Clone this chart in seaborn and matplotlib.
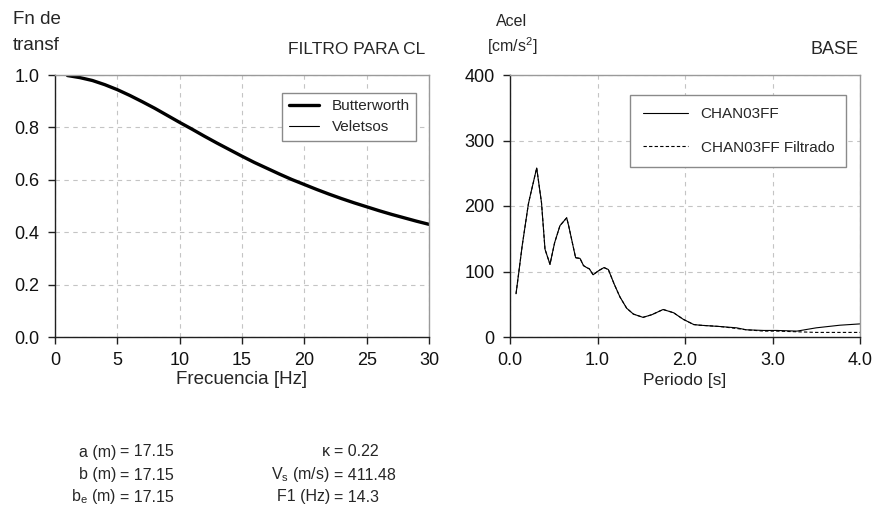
import numpy as np
import pandas as pd
import seaborn as sns
import matplotlib.pyplot as plt

# --- left panel: transfer function ---
freq_hz = [1, 2, 3, 4, 5, 6, 7, 8, 9, 10, 11, 12, 13, 14, 15, 16, 17, 18, 19, 20,
           21, 22, 23, 24, 25, 26, 27, 28, 29, 30]
butterworth = [0.998, 0.990, 0.979, 0.963, 0.944, 0.922, 0.898, 0.873, 0.846, 0.819,
               0.793, 0.766, 0.740, 0.715, 0.690, 0.666, 0.644, 0.622, 0.601, 0.582,
               0.563, 0.545, 0.528, 0.512, 0.497, 0.482, 0.468, 0.455, 0.442, 0.430]
veletsos = [0.998, 0.990, 0.979, 0.963, 0.944, 0.922, 0.898, 0.873, 0.846, 0.819,
            0.793, 0.766, 0.740, 0.715, 0.690, 0.666, 0.644, 0.622, 0.601, 0.582,
            0.563, 0.545, 0.528, 0.512, 0.497, 0.482, 0.468, 0.455, 0.442, 0.430]

# --- right panel: response spectrum ---
periodo = [0.069, 0.14, 0.21, 0.23, 0.305, 0.36, 0.40, 0.457, 0.51, 0.571, 0.648, 0.67,
           0.75, 0.80, 0.84, 0.876, 0.907, 0.95, 1.01, 1.074, 1.124, 1.19, 1.257, 1.333,
           1.41, 1.52, 1.62, 1.75, 1.87, 1.98, 2.10, 2.17, 2.40, 2.59, 2.70, 2.90, 3.05,
           3.28, 3.50, 3.77, 4.00]
chan03ff = [66, 140, 203, 215, 258, 205, 134, 111, 144, 170, 182, 170,
            121, 120, 109, 106, 104, 95, 101, 106, 103, 81, 61, 44,
            35, 30, 34, 42, 37, 27, 19, 18, 16, 14, 11, 10, 10,
            9, 14, 18, 20]
chan03ff_filt = [66, 140, 203, 215, 258, 205, 134, 111, 144, 170, 182, 170,
                 121, 120, 109, 106, 104, 95, 101, 106, 103, 81, 61, 44,
                 35, 30, 34, 42, 37, 27, 19, 18, 16, 13, 11, 9, 9,
                 8, 7, 7, 7]

params_left = [("a (m)", "17.15"), ("b (m)", "17.15"), ("b$_\\mathregular{e}$ (m)", "17.15")]
params_right = [("\u03ba", "0.22"), ("V$_\\mathregular{s}$ (m/s)", "411.48"), ("F1 (Hz)", "14.3")]

sns.set_style("ticks")
plt.rcParams["font.family"] = ["Liberation Sans", "DejaVu Sans"]

fig = plt.figure(figsize=(8.72, 5.09), dpi=100)
W, H = 872.0, 509.0
ax1 = fig.add_axes([55 / W, 1 - 337 / H, 374 / W, 262 / H])
ax2 = fig.add_axes([510 / W, 1 - 337 / H, 350 / W, 262 / H])

df_tf = pd.DataFrame({"f": freq_hz, "bw": butterworth, "vel": veletsos})
sns.lineplot(data=df_tf, x="f", y="bw", ax=ax1, color="black", lw=2.4, label="Butterworth")
sns.lineplot(data=df_tf, x="f", y="vel", ax=ax1, color="black", lw=0.8, label="Veletsos")

df_sp = pd.DataFrame({"T": periodo, "a": chan03ff, "af": chan03ff_filt})
sns.lineplot(data=df_sp, x="T", y="a", ax=ax2, color="black", lw=0.8, label="CHAN03FF")
sns.lineplot(data=df_sp, x="T", y="af", ax=ax2, color="black", lw=0.8,
             dashes=(3, 2), label="CHAN03FF Filtrado")

ax1.set_xlim(0, 30)
ax1.set_ylim(0, 1.0)
ax1.set_xticks(range(0, 31, 5))
ax1.set_yticks(np.arange(0, 1.01, 0.2))
ax1.set_yticklabels(["0.0", "0.2", "0.4", "0.6", "0.8", "1.0"])

ax2.set_xlim(0, 4.0)
ax2.set_ylim(0, 400)
ax2.set_xticks([0, 1, 2, 3, 4])
ax2.set_xticklabels(["0.0", "1.0", "2.0", "3.0", "4.0"])
ax2.set_yticks([0, 100, 200, 300, 400])

for ax in (ax1, ax2):
    ax.grid(True, color="#c4c4c4", ls=(0, (4, 4)), lw=0.8)
    for s in ("left", "bottom"):
        ax.spines[s].set_color("#202020")
        ax.spines[s].set_linewidth(1.0)
    for s in ("top", "right"):
        ax.spines[s].set_visible(True)
        ax.spines[s].set_color("#9a9a9a")
        ax.spines[s].set_linewidth(1.0)
    ax.tick_params(direction="out", length=5, width=1, color="#202020",
                   labelsize=13, labelcolor="#111111", pad=6)
    ax.set_ylabel("")

ax1.set_xlabel("Frecuencia [Hz]", fontsize=13.5, labelpad=1)
ax2.set_xlabel("Periodo [s]", fontsize=12.5, labelpad=3)

leg1 = ax1.legend(loc="upper right", bbox_to_anchor=(0.987, 0.962), fontsize=11,
                  handlelength=2.0, labelspacing=0.45, borderpad=0.45,
                  fancybox=False, frameon=True)
leg2 = ax2.legend(loc="upper right", bbox_to_anchor=(0.983, 0.954), fontsize=11,
                  handlelength=3.0, labelspacing=1.3, borderpad=0.8,
                  fancybox=False, frameon=True)
for leg in (leg1, leg2):
    leg.get_frame().set_edgecolor("#8a8a8a")
    leg.get_frame().set_linewidth(1.0)
    leg.get_frame().set_alpha(1)

# header texts
fig.text(13 / W, 1 - 20 / H, "Fn de", fontsize=13.5, va="center", ha="left")
fig.text(13 / W, 1 - 45 / H, "transf", fontsize=13.5, va="center", ha="left")
fig.text(425 / W, 1 - 49 / H, "FILTRO PARA CL", fontsize=12.5, va="center", ha="right")
fig.text(512 / W, 1 - 22 / H, "Acel", fontsize=11.5, va="center", ha="center")
fig.text(512 / W, 1 - 46 / H, "[cm/s$^\\mathregular{2}$]", fontsize=11.5, va="center", ha="center")
fig.text(858 / W, 1 - 49 / H, "BASE", fontsize=13, va="center", ha="right")

# parameters below left panel
rows_y = [452, 475, 497]
for (lab, val), y in zip(params_left, rows_y):
    fig.text(116 / W, 1 - y / H, lab, fontsize=11.5, va="center", ha="right")
    fig.text(120 / W, 1 - y / H, "= " + val, fontsize=11.5, va="center", ha="left")
for (lab, val), y in zip(params_right, rows_y):
    fig.text(330 / W, 1 - y / H, lab, fontsize=11.5, va="center", ha="right")
    fig.text(334 / W, 1 - y / H, "= " + val, fontsize=11.5, va="center", ha="left")

fig.savefig("out.png", dpi=100)
